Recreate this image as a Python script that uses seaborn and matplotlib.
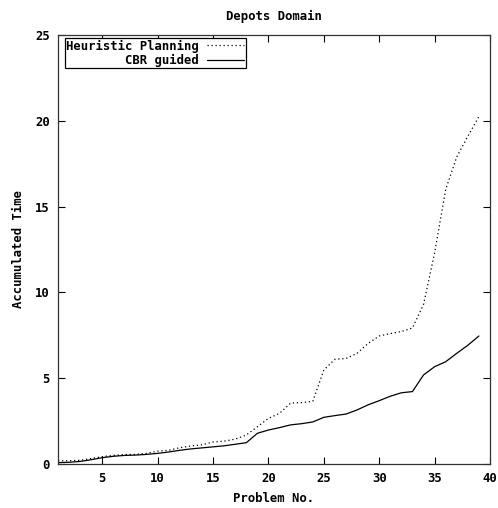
import numpy as np
import pandas as pd
import matplotlib
matplotlib.use("Agg")
import matplotlib.pyplot as plt
import seaborn as sns

# values
problems = list(range(1, 40))
heuristic = [0.19, 0.19, 0.22, 0.32, 0.43, 0.5, 0.55, 0.56, 0.62, 0.75,
             0.8, 0.95, 1.05, 1.12, 1.28, 1.33, 1.45, 1.69, 2.17, 2.66,
             2.95, 3.55, 3.58, 3.65, 5.48, 6.1, 6.15, 6.45, 7.03, 7.46,
             7.6, 7.72, 7.93, 9.3, 12.3, 16.0, 17.9, 19.1, 20.25]
cbr = [0.08, 0.1, 0.15, 0.25, 0.37, 0.45, 0.5, 0.52, 0.56, 0.62,
       0.7, 0.8, 0.88, 0.94, 1.0, 1.06, 1.15, 1.24, 1.79, 1.98,
       2.12, 2.28, 2.35, 2.45, 2.72, 2.82, 2.91, 3.15, 3.45, 3.69,
       3.95, 4.15, 4.22, 5.19, 5.67, 5.96, 6.45, 6.92, 7.46]
series_names = ["Heuristic Planning", "CBR guided"]

df = pd.DataFrame({
    "Problem": problems * 2,
    "Time": heuristic + cbr,
    "Method": [series_names[0]] * len(problems) + [series_names[1]] * len(problems),
})

sns.set_style("ticks")
plt.rcParams["font.family"] = ["DejaVu Sans Mono"]
plt.rcParams["font.weight"] = "bold"
plt.rcParams["font.size"] = 8.8
plt.rcParams["text.color"] = "black"
plt.rcParams["axes.labelcolor"] = "black"

fig = plt.figure(figsize=(4.98, 5.08), dpi=100)
ax = fig.add_axes([58 / 498, 1 - 464 / 508, (490 - 58) / 498, (464 - 35) / 508])

sns.lineplot(data=df, x="Problem", y="Time", hue="Method", style="Method",
             palette=["black", "black"], dashes=[(1, 2.2), ""],
             linewidth=0.9, ax=ax)

ax.set_xlim(1, 40)
ax.set_ylim(0, 25)
ax.set_xticks([5, 10, 15, 20, 25, 30, 35, 40])
ax.set_yticks([0, 5, 10, 15, 20, 25])
ax.tick_params(direction="in", length=5, width=0.8, top=True, right=True,
               labelsize=8.8, colors="black", pad=6)
for s in ax.spines.values():
    s.set_linewidth(0.9)
    s.set_color("#333333")
    s.set_visible(True)

ax.set_title("Depots Domain", fontsize=8.8, fontweight="bold", pad=11, color="black")
ax.set_xlabel("Problem No.", fontsize=8.8, fontweight="bold", labelpad=5)
ax.set_ylabel("Accumulated Time", fontsize=8.8, fontweight="bold", labelpad=7)

leg = ax.legend(loc="upper left", bbox_to_anchor=(7 / 432, 1 - 3 / 429),
                borderaxespad=0, markerfirst=False, fancybox=False,
                framealpha=1, edgecolor="black", handlelength=3.1,
                handletextpad=0.6, borderpad=0.12, labelspacing=0.1,
                prop={"family": "DejaVu Sans Mono", "weight": "bold", "size": 8.8})
leg.get_frame().set_linewidth(0.9)
for t in leg.get_texts():
    t.set_color("black")

fig.savefig("out.png", dpi=100)
